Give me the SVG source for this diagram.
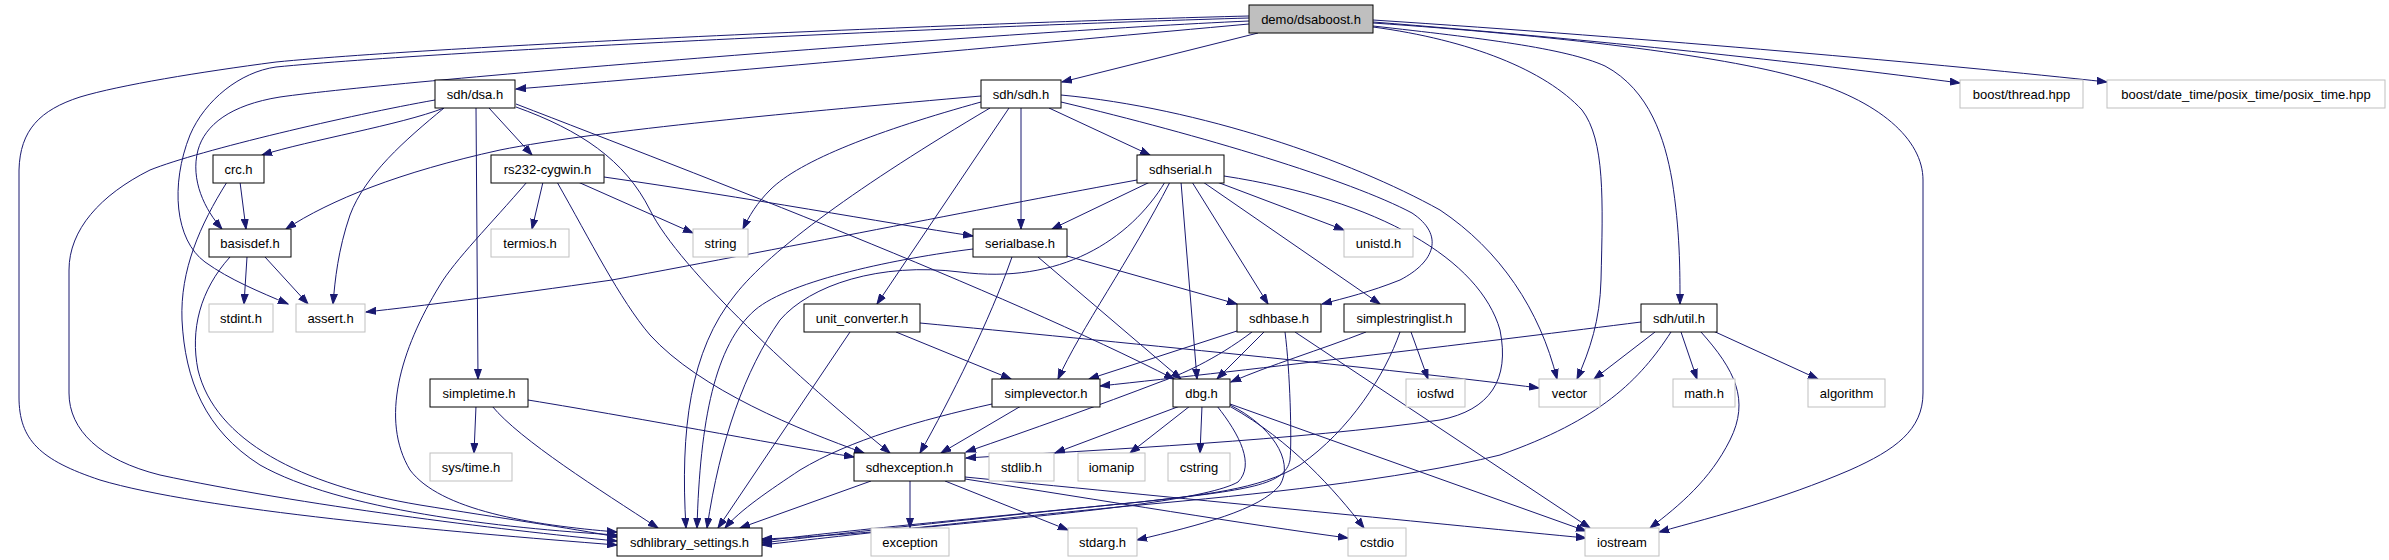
<svg xmlns="http://www.w3.org/2000/svg" width="2389" height="560" viewBox="0 0 2389 560">
<style>
rect{stroke-width:1}
.n rect{fill:#ffffff;stroke:#000000}
.g rect{fill:#ffffff;stroke:#bfbfbf}
.m rect{fill:#bfbfbf;stroke:#000000}
text{font-family:"Liberation Sans",Helvetica,Arial,sans-serif;font-size:13px;fill:#000000;text-anchor:middle}
#edges path{fill:none;stroke:#191970;stroke-width:1;marker-end:url(#arr)}
</style>
<defs>
<marker id="arr" markerWidth="11" markerHeight="8" refX="10" refY="4" orient="auto" markerUnits="userSpaceOnUse">
<path d="M0,0.5 L10,4 L0,7.5 z" fill="#191970" stroke="#191970" stroke-width="1"/>
</marker>
</defs>
<rect width="2389" height="560" fill="#ffffff"/>
<g id="edges">
<path d="M1249,24 C1050,42 750,70 516,89"/>
<path d="M1258,33 L1062,82"/>
<path d="M1249,21 C1000,32 400,80 280,97 C230,105 205,125 198,150 C190,180 205,210 222,229"/>
<path d="M1249,18 C1000,25 450,50 276,67 C240,72 205,100 190,135 C170,185 175,240 205,262 C230,280 260,292 288,304"/>
<path d="M1249,16 C1000,22 450,45 276,62 C200,72 120,85 80,97 C40,110 20,130 19,170 L19,397 C19,440 40,460 100,480 C200,510 450,532 617,545"/>
<path d="M1373,26 C1480,38 1565,48 1605,66 C1650,90 1665,140 1672,180 C1680,230 1680,270 1680,304"/>
<path d="M1373,27 C1470,40 1545,70 1582,110 C1605,140 1603,200 1601,280 C1600,320 1590,350 1577,379"/>
<path d="M1373,23 C1550,35 1720,55 1800,78 C1880,100 1923,140 1923,180 L1923,393 C1923,430 1895,450 1850,470 C1780,500 1720,515 1659,532"/>
<path d="M1373,22 C1600,40 1800,62 1960,83"/>
<path d="M1373,20 C1650,38 1950,65 2107,82"/>
<path d="M435,100 C350,115 200,150 150,170 C100,195 69,230 69,270 L69,393 C69,430 100,460 160,475 C300,505 500,530 617,541"/>
<path d="M444,108 C400,125 310,140 262,155"/>
<path d="M444,108 C405,140 365,175 350,215 C338,250 335,280 333,304"/>
<path d="M476,108 L478,379"/>
<path d="M489,108 L532,155"/>
<path d="M516,104 C700,175 1000,290 1174,379"/>
<path d="M516,107 C580,130 625,160 650,210 C680,270 800,380 890,453"/>
<path d="M240,182 L246,229"/>
<path d="M227,182 C200,225 180,270 182,320 C185,380 205,430 260,465 C340,510 500,528 617,535"/>
<path d="M543,182 L532,229"/>
<path d="M578,182 L693,233"/>
<path d="M604,177 C750,198 880,222 973,236"/>
<path d="M527,182 C490,225 455,260 440,285 C400,350 380,420 410,470 C440,510 530,525 617,532"/>
<path d="M557,182 C590,240 620,300 650,335 C700,390 800,430 864,453"/>
<path d="M247,257 L244,304"/>
<path d="M265,257 L308,304"/>
<path d="M230,257 C200,290 190,330 198,370 C215,440 300,485 420,505 C500,518 570,528 617,537"/>
<path d="M981,96 C800,112 600,130 500,150 C400,172 330,200 286,229"/>
<path d="M981,102 C880,130 800,160 770,190 C757,203 749,216 743,229"/>
<path d="M1021,108 L1021,229"/>
<path d="M1049,108 L1150,155"/>
<path d="M1009,108 L877,304"/>
<path d="M990,108 C860,185 770,250 735,295 C690,350 680,430 686,528"/>
<path d="M1061,102 C1200,135 1350,180 1412,213 C1445,235 1435,262 1400,280 C1370,292 1345,298 1322,304"/>
<path d="M1061,95 C1200,108 1350,160 1440,210 C1500,250 1540,310 1557,379"/>
<path d="M1150,182 L1052,229"/>
<path d="M1137,180 C1000,205 800,245 612,280 C500,296 420,306 366,312"/>
<path d="M1165,182 C1130,240 1060,285 960,272 C880,262 810,285 780,320 C745,370 720,440 707,528"/>
<path d="M1170,182 C1130,260 1080,330 1058,379"/>
<path d="M1181,182 L1197,379"/>
<path d="M1192,182 L1268,304"/>
<path d="M1203,182 L1380,304"/>
<path d="M1217,182 L1344,230"/>
<path d="M1224,176 C1380,200 1480,260 1500,330 C1510,380 1490,410 1440,420 C1300,440 1100,450 966,458"/>
<path d="M1012,257 C990,320 950,400 920,453"/>
<path d="M973,249 C900,258 790,280 755,310 C715,345 700,420 697,528"/>
<path d="M1038,257 L1181,379"/>
<path d="M1067,256 L1237,304"/>
<path d="M850,332 L718,528"/>
<path d="M896,332 L1011,379"/>
<path d="M920,323 C1100,340 1400,370 1539,388"/>
<path d="M1240,330 L1089,379"/>
<path d="M1252,332 C1215,360 1180,375 1160,382 C1100,405 1030,430 966,452"/>
<path d="M1264,332 L1217,379"/>
<path d="M1295,332 L1590,528"/>
<path d="M1285,332 C1290,370 1292,440 1290,460 C1285,485 1250,490 1140,502 C1000,516 850,530 762,541"/>
<path d="M1411,332 L1428,379"/>
<path d="M1366,332 C1320,350 1270,365 1231,382"/>
<path d="M1400,332 C1385,375 1350,430 1300,465 C1260,490 1200,495 1140,502 C1000,516 850,532 762,543"/>
<path d="M1641,322 C1500,340 1250,370 1100,386"/>
<path d="M1655,332 L1594,379"/>
<path d="M1681,332 L1697,379"/>
<path d="M1711,330 L1818,379"/>
<path d="M1701,332 C1735,370 1750,400 1730,440 C1710,480 1680,505 1650,528"/>
<path d="M1671,332 C1640,380 1600,420 1500,455 C1400,480 1250,495 1140,505 C1000,518 850,535 762,545"/>
<path d="M476,406 L474,453"/>
<path d="M492,406 C520,440 600,490 658,528"/>
<path d="M528,400 C650,420 780,445 854,457"/>
<path d="M1021,406 L941,453"/>
<path d="M992,404 C920,420 850,440 800,470 C770,490 740,510 725,528"/>
<path d="M1180,406 L1055,453"/>
<path d="M1190,406 L1130,453"/>
<path d="M1202,406 L1200,453"/>
<path d="M1217,406 C1240,435 1255,465 1238,482 C1210,498 1100,510 1000,520 C900,530 820,537 762,539"/>
<path d="M1230,405 C1270,425 1295,460 1280,485 C1260,510 1200,525 1137,540"/>
<path d="M1231,407 C1290,440 1335,490 1364,528"/>
<path d="M1230,404 L1586,531"/>
<path d="M871,481 L740,528"/>
<path d="M910,481 L910,528"/>
<path d="M945,481 L1068,530"/>
<path d="M965,479 C1100,500 1250,525 1348,538"/>
<path d="M965,477 C1200,500 1450,525 1586,538"/>
</g>
<g id="n_dsaboost" class="m"><rect x="1249" y="5" width="124" height="28"/><text x="1311" y="23.5">demo/dsaboost.h</text></g>
<g id="n_dsa" class="n"><rect x="435" y="80" width="80" height="28"/><text x="475" y="98.5">sdh/dsa.h</text></g>
<g id="n_sdh" class="n"><rect x="981" y="80" width="80" height="28"/><text x="1021" y="98.5">sdh/sdh.h</text></g>
<g id="n_thread" class="g"><rect x="1960" y="80" width="123" height="28"/><text x="2021.5" y="98.5">boost/thread.hpp</text></g>
<g id="n_posix" class="g"><rect x="2107" y="80" width="278" height="28"/><text x="2246" y="98.5">boost/date_time/posix_time/posix_time.hpp</text></g>
<g id="n_crc" class="n"><rect x="213" y="155" width="51" height="28"/><text x="238.5" y="173.5">crc.h</text></g>
<g id="n_rs232" class="n"><rect x="491" y="155" width="113" height="28"/><text x="547.5" y="173.5">rs232-cygwin.h</text></g>
<g id="n_sdhserial" class="n"><rect x="1137" y="155" width="87" height="28"/><text x="1180.5" y="173.5">sdhserial.h</text></g>
<g id="n_basisdef" class="n"><rect x="209" y="229" width="82" height="28"/><text x="250" y="247.5">basisdef.h</text></g>
<g id="n_termios" class="g"><rect x="491" y="229" width="78" height="28"/><text x="530" y="247.5">termios.h</text></g>
<g id="n_string" class="g"><rect x="693" y="229" width="55" height="28"/><text x="720.5" y="247.5">string</text></g>
<g id="n_serialbase" class="n"><rect x="973" y="229" width="94" height="28"/><text x="1020" y="247.5">serialbase.h</text></g>
<g id="n_unistd" class="g"><rect x="1344" y="229" width="69" height="28"/><text x="1378.5" y="247.5">unistd.h</text></g>
<g id="n_stdint" class="g"><rect x="209" y="304" width="64" height="28"/><text x="241" y="322.5">stdint.h</text></g>
<g id="n_assert" class="g"><rect x="296" y="304" width="69" height="28"/><text x="330.5" y="322.5">assert.h</text></g>
<g id="n_unitconv" class="n"><rect x="804" y="304" width="116" height="28"/><text x="862" y="322.5">unit_converter.h</text></g>
<g id="n_sdhbase" class="n"><rect x="1237" y="304" width="84" height="28"/><text x="1279" y="322.5">sdhbase.h</text></g>
<g id="n_simplestringlist" class="n"><rect x="1344" y="304" width="121" height="28"/><text x="1404.5" y="322.5">simplestringlist.h</text></g>
<g id="n_util" class="n"><rect x="1641" y="304" width="76" height="28"/><text x="1679" y="322.5">sdh/util.h</text></g>
<g id="n_simpletime" class="n"><rect x="430" y="379" width="98" height="28"/><text x="479" y="397.5">simpletime.h</text></g>
<g id="n_simplevector" class="n"><rect x="992" y="379" width="108" height="28"/><text x="1046" y="397.5">simplevector.h</text></g>
<g id="n_dbg" class="n"><rect x="1173" y="379" width="57" height="28"/><text x="1201.5" y="397.5">dbg.h</text></g>
<g id="n_iosfwd" class="g"><rect x="1406" y="379" width="59" height="28"/><text x="1435.5" y="397.5">iosfwd</text></g>
<g id="n_vector" class="g"><rect x="1539" y="379" width="61" height="28"/><text x="1569.5" y="397.5">vector</text></g>
<g id="n_math" class="g"><rect x="1673" y="379" width="62" height="28"/><text x="1704" y="397.5">math.h</text></g>
<g id="n_algorithm" class="g"><rect x="1808" y="379" width="77" height="28"/><text x="1846.5" y="397.5">algorithm</text></g>
<g id="n_systime" class="g"><rect x="430" y="453" width="82" height="28"/><text x="471" y="471.5">sys/time.h</text></g>
<g id="n_sdhexception" class="n"><rect x="854" y="453" width="111" height="28"/><text x="909.5" y="471.5">sdhexception.h</text></g>
<g id="n_stdlib" class="g"><rect x="989" y="453" width="65" height="28"/><text x="1021.5" y="471.5">stdlib.h</text></g>
<g id="n_iomanip" class="g"><rect x="1078" y="453" width="67" height="28"/><text x="1111.5" y="471.5">iomanip</text></g>
<g id="n_cstring" class="g"><rect x="1168" y="453" width="62" height="28"/><text x="1199" y="471.5">cstring</text></g>
<g id="n_sdhlib" class="n"><rect x="617" y="528" width="145" height="28"/><text x="689.5" y="546.5">sdhlibrary_settings.h</text></g>
<g id="n_exception" class="g"><rect x="871" y="528" width="78" height="28"/><text x="910" y="546.5">exception</text></g>
<g id="n_stdarg" class="g"><rect x="1068" y="528" width="69" height="28"/><text x="1102.5" y="546.5">stdarg.h</text></g>
<g id="n_cstdio" class="g"><rect x="1348" y="528" width="58" height="28"/><text x="1377" y="546.5">cstdio</text></g>
<g id="n_iostream" class="g"><rect x="1585" y="528" width="74" height="28"/><text x="1622" y="546.5">iostream</text></g>
</svg>
